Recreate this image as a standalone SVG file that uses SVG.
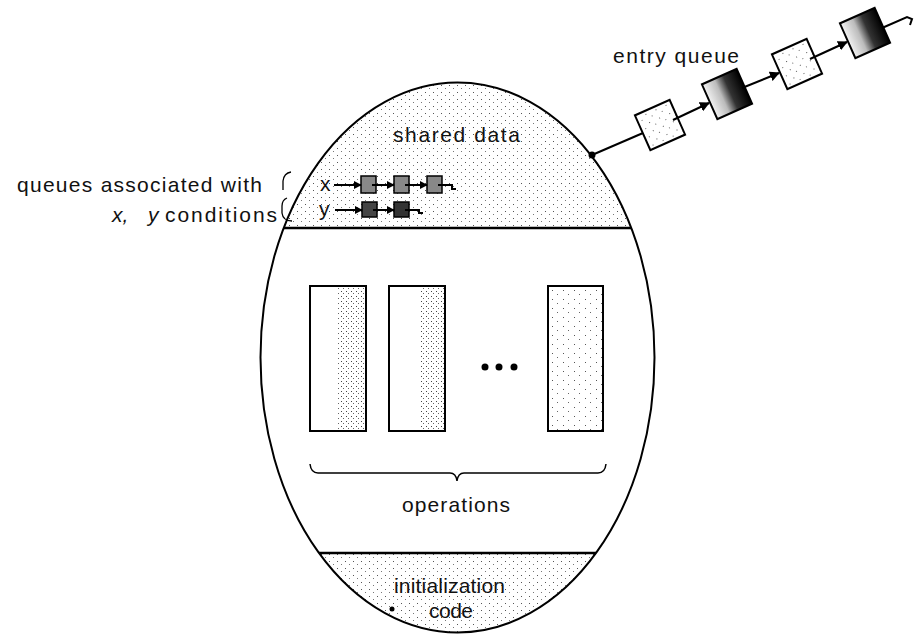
<svg xmlns="http://www.w3.org/2000/svg" width="916" height="635" viewBox="0 0 916 635">
<style>
  text { font-family: "Liberation Sans", Arial, sans-serif; fill: #111; }
  .lbl { font-size: 21px; }
  .it { font-style: italic; }
  .edge { fill: none; stroke: #000; stroke-width: 2; }
  .link { fill: none; stroke: #000; stroke-width: 2; }
  .box { stroke: #000; stroke-width: 2; }
  .sbox { stroke: #000; stroke-width: 1.5; }
</style>
<defs>
  <pattern id="dots" width="8" height="7" patternUnits="userSpaceOnUse">
    <rect x="1" y="1" width="1" height="1" fill="#555"/>
    <rect x="5" y="4" width="1" height="1" fill="#777"/>
  </pattern>
  <pattern id="dotsDense" width="5" height="5" patternUnits="userSpaceOnUse">
    <rect x="1" y="1" width="1" height="1" fill="#444"/>
    <rect x="3" y="3" width="1" height="1" fill="#666"/>
  </pattern>
  <pattern id="dotsSparse" width="11" height="9" patternUnits="userSpaceOnUse">
    <rect x="2" y="2" width="1" height="1" fill="#555"/>
    <rect x="7" y="6" width="1" height="1" fill="#666"/>
  </pattern>
  <linearGradient id="darkGrad" x1="0" y1="0" x2="1" y2="0">
    <stop offset="0" stop-color="#f2f2f2"/>
    <stop offset="0.35" stop-color="#bbb"/>
    <stop offset="0.6" stop-color="#333"/>
    <stop offset="1" stop-color="#000"/>
  </linearGradient>
  <clipPath id="ellClip">
    <ellipse cx="457.5" cy="357.5" rx="197" ry="275"/>
  </clipPath>
  <marker id="arr" viewBox="0 0 10 10" refX="9" refY="5" markerWidth="5" markerHeight="5" orient="auto">
    <path d="M0,0 L10,5 L0,10 z" fill="#000"/>
  </marker>
  <marker id="arrS" viewBox="0 0 10 10" refX="9" refY="5" markerWidth="4" markerHeight="4" orient="auto">
    <path d="M0,0 L10,5 L0,10 z" fill="#000"/>
  </marker>
</defs>

<!-- Monitor outline -->
<g id="monitor">
  <ellipse cx="457.5" cy="357.5" rx="197" ry="275" fill="#fff"/>
  <g clip-path="url(#ellClip)">
    <rect x="255" y="80" width="410" height="148" fill="url(#dots)"/>
    <rect x="255" y="553" width="410" height="85" fill="url(#dots)"/>
  </g>
  <ellipse cx="457.5" cy="357.5" rx="197" ry="275" class="edge"/>
  <line x1="284" y1="228" x2="631" y2="228" stroke="#000" stroke-width="2.5"/>
  <line x1="319" y1="553" x2="596" y2="553" stroke="#000" stroke-width="2.5"/>
</g>

<!-- Shared data -->
<g id="shared-data">
  <text class="lbl" x="393" y="142" font-size="22" textLength="127" lengthAdjust="spacing">shared data</text>
</g>

<!-- Condition queues x and y -->
<g id="queue-x">
  <text class="lbl" x="320" y="191" font-size="19">x</text>
  <rect class="sbox" x="361" y="176" width="15" height="17" fill="#888"/>
  <rect class="sbox" x="394" y="176" width="15" height="17" fill="#888"/>
  <rect class="sbox" x="427" y="176" width="15" height="17" fill="#888"/>
</g>
<g id="queue-y">
  <text class="lbl" x="319" y="216" font-size="19">y</text>
  <rect class="sbox" x="362" y="202" width="15" height="15" fill="#444"/>
  <rect class="sbox" x="394" y="202" width="15" height="15" fill="#333"/>
</g>

<!-- Operations -->
<g id="operations">
  <rect x="310" y="286" width="56" height="145" fill="#fff"/>
  <rect x="338" y="287" width="27" height="143" fill="url(#dotsDense)"/>
  <rect x="310" y="286" width="56" height="145" fill="none" class="box"/>
  <rect x="389" y="286" width="56" height="145" fill="#fff"/>
  <rect x="420" y="287" width="24" height="143" fill="url(#dotsDense)"/>
  <rect x="389" y="286" width="56" height="145" fill="none" class="box"/>
  <circle cx="485" cy="367" r="3.5" fill="#000"/>
  <circle cx="499" cy="367" r="3.5" fill="#000"/>
  <circle cx="514" cy="367" r="3.5" fill="#000"/>
  <rect x="548" y="286" width="55" height="145" fill="url(#dotsSparse)" class="box"/>
  <path d="M310,464 Q311,473 318,473 L450,473 Q456,473 457,481 Q458,473 464,473 L598,473 Q605,473 606,464" fill="none" stroke="#000" stroke-width="1.5"/>
  <text class="lbl" x="402" y="512" font-size="22" textLength="108" lengthAdjust="spacing">operations</text>
</g>

<!-- Initialization code -->
<g id="init-code">
  <text class="lbl" x="394" y="593" textLength="111" lengthAdjust="spacing">initialization</text>
  <text class="lbl" x="429" y="618" textLength="44" lengthAdjust="spacing">code</text>
  <circle cx="392" cy="609" r="2.5" fill="#000"/>
</g>

<!-- Left annotation -->
<g id="queue-label">
  <text class="lbl" x="17" y="192" font-size="20" textLength="245" lengthAdjust="spacing">queues associated with</text>
  <text class="lbl it" x="112" y="222">x,</text>
  <text class="lbl it" x="148" y="222">y</text>
  <text class="lbl" x="165" y="222" textLength="112" lengthAdjust="spacing">conditions</text>
  <path d="M291,172 Q284,173 283,181 L283,190" fill="none" stroke="#000" stroke-width="1.3"/>
  <path d="M287,198 Q282,200 282,206 L282,213 Q283,221 292,221" fill="none" stroke="#000" stroke-width="1.3"/>
</g>

<!-- Entry queue -->
<g id="entry-queue">
  <text class="lbl" x="613" y="63" textLength="126" lengthAdjust="spacing">entry queue</text>
  <g id="eq1" transform="translate(660,125) rotate(-24)">
    <rect x="-19" y="-19" width="38" height="38" fill="#fff"/>
    <rect x="-19" y="-19" width="38" height="38" fill="url(#dotsSparse)" class="box"/>
  </g>
  <g id="eq2" transform="translate(727,94) rotate(-24)">
    <rect x="-19" y="-19" width="38" height="38" fill="url(#darkGrad)" class="box"/>
  </g>
  <g id="eq3" transform="translate(797,64) rotate(-24)">
    <rect x="-19" y="-19" width="38" height="38" fill="#fff"/>
    <rect x="-19" y="-19" width="38" height="38" fill="url(#dotsSparse)" class="box"/>
  </g>
  <g id="eq4" transform="translate(865,33) rotate(-24)">
    <rect x="-19" y="-19" width="38" height="38" fill="url(#darkGrad)" class="box"/>
  </g>
</g>

<!-- Connectors -->
<g id="connectors">
  <circle cx="592" cy="155" r="3.5" fill="#000"/>
  <line class="link" x1="592" y1="155" x2="643" y2="133"/>
  <line class="link" x1="673" y1="120" x2="709" y2="103" marker-end="url(#arr)"/>
  <line class="link" x1="742" y1="88" x2="779" y2="73" marker-end="url(#arr)"/>
  <line class="link" x1="810" y1="59" x2="847" y2="42" marker-end="url(#arr)"/>
  <polyline class="link" points="882,28 907,17 912,19 910,25"/>
  <!-- x queue -->
  <line class="link" stroke-width="1.5" x1="334" y1="185" x2="361" y2="185" marker-end="url(#arrS)"/>
  <line class="link" stroke-width="1.5" x1="372" y1="185" x2="394" y2="185" marker-end="url(#arrS)"/>
  <line class="link" stroke-width="1.5" x1="405" y1="185" x2="427" y2="185" marker-end="url(#arrS)"/>
  <polyline class="link" stroke-width="1.5" points="438,185 452,185 452,189 456,189"/>
  <!-- y queue -->
  <line class="link" stroke-width="1.5" x1="335" y1="210" x2="362" y2="210" marker-end="url(#arrS)"/>
  <line class="link" stroke-width="1.5" x1="373" y1="210" x2="394" y2="210" marker-end="url(#arrS)"/>
  <polyline class="link" stroke-width="1.5" points="405,210 419,210 419,213 423,213"/>
</g>
</svg>
